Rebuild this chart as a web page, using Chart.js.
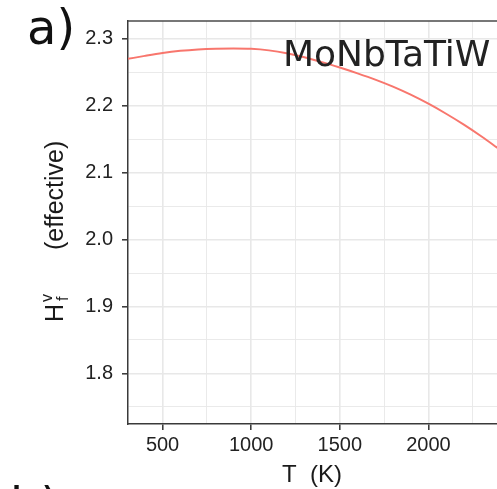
<!DOCTYPE html>
<html>
<head>
<meta charset="utf-8">
<script src="https://cdn.jsdelivr.net/npm/chart.js@4.4.1/dist/chart.umd.min.js"></script>
<style>
  html, body { margin: 0; padding: 0; background: #fff; }
</style>
</head>
<body>
<canvas id="myChart" width="497" height="489"></canvas>
<script>
// temperature (K) and effective vacancy formation enthalpy
const temps = [305, 400, 500, 600, 700, 800, 900, 1000, 1100, 1200, 1300, 1400,
               1500, 1600, 1700, 1800, 1900, 2000, 2100, 2200, 2300, 2400];
const hfv = [2.2700, 2.2745, 2.2788, 2.2820, 2.2841, 2.2852, 2.2855, 2.2850, 2.2827, 2.2785, 2.2725, 2.2652,
             2.2570, 2.2483, 2.2390, 2.2285, 2.2165, 2.2030, 2.1880, 2.1717, 2.1540, 2.1350];
// gridline positions (major ones get a label)
const xTicks = [500, 750, 1000, 1250, 1500, 1750, 2000, 2250];
const xLabeled = [500, 1000, 1500, 2000];
const yTicks = [1.75, 1.8, 1.85, 1.9, 1.95, 2.0, 2.05, 2.1, 2.15, 2.2, 2.25, 2.3];
const yLabeled = [1.8, 1.9, 2.0, 2.1, 2.2, 2.3];

const isMajor = (list, v) => list.some(m => Math.abs(m - v) < 1e-6);

Chart.defaults.font.family = "'Liberation Sans', Arial, sans-serif";

const textPlugin = {
  id: "panelText",
  beforeDraw(chart) {
    const c = chart.ctx;
    c.save();
    c.fillStyle = "#fff";
    c.fillRect(0, 0, chart.width, chart.height);
    c.restore();
  },
  afterDraw(chart) {
    const c = chart.ctx;
    const area = chart.chartArea;
    c.save();
    // top panel border
    c.strokeStyle = "#4a4a4a";
    c.lineWidth = 1.5;
    c.beginPath();
    c.moveTo(area.left, area.top);
    c.lineTo(area.right, area.top);
    c.stroke();

    c.fillStyle = "#111";
    c.textBaseline = "alphabetic";
    // panel letters
    c.font = "48px 'DejaVu Sans', sans-serif";
    c.textAlign = "left";
    c.fillText("a)", 27, 44);
    c.fillText("b)", 10, 522);

    // alloy name
    c.font = "36px 'DejaVu Sans', sans-serif";
    c.fillStyle = "#222";
    c.fillText("MoNbTaTiW", 283, 66);

    // x title
    c.fillStyle = "#1a1a1a";
    c.font = "24px 'Liberation Sans', Arial, sans-serif";
    c.textAlign = "center";
    c.fillText("T  (K)", 312, 482);

    // y title with sub/superscript
    c.translate(63, 322);
    c.rotate(-Math.PI / 2);
    c.textAlign = "left";
    c.font = "25px 'Liberation Sans', Arial, sans-serif";
    c.fillText("H", 0, 0);
    const wH = c.measureText("H").width;
    c.font = "16px 'Liberation Sans', Arial, sans-serif";
    c.fillText("v", wH + 2, -11);
    c.fillText("f", wH + 3, 5);
    c.font = "25px 'Liberation Sans', Arial, sans-serif";
    c.fillText("(effective)", 72, 0);
    c.restore();
  }
};

new Chart(document.getElementById("myChart"), {
  type: "line",
  data: {
    datasets: [{
      data: temps.map((t, i) => ({ x: t, y: hfv[i] })),
      borderColor: "#F8766D",
      borderWidth: 2,
      pointRadius: 0,
      cubicInterpolationMode: "monotone",
      fill: false
    }]
  },
  options: {
    responsive: false,
    animation: false,
    layout: { padding: { top: 16, right: 0, left: 0, bottom: 0 } },
    plugins: { legend: { display: false }, tooltip: { enabled: false } },
    scales: {
      x: {
        type: "linear",
        min: 305,
        max: 2387,
        afterBuildTicks: s => { s.ticks = xTicks.map(v => ({ value: v })); },
        afterFit: s => { s.height = 65; },
        ticks: {
          autoSkip: false,
          maxRotation: 0,
          padding: 3,
          color: "#222",
          font: { size: 20 },
          callback: v => isMajor(xLabeled, v) ? String(v) : ""
        },
        grid: {
          color: "#e8e8e8",
          lineWidth: ctx => (ctx.tick && isMajor(xLabeled, ctx.tick.value)) ? 1.6 : 0.9,
          tickColor: ctx => (ctx.tick && isMajor(xLabeled, ctx.tick.value)) ? "#333" : "rgba(0,0,0,0)",
          tickLength: 6,
          tickWidth: 1.5
        },
        border: { display: true, color: "#3a3a3a", width: 1.5 }
      },
      y: {
        min: 1.7244,
        max: 2.3266,
        afterBuildTicks: s => { s.ticks = yTicks.map(v => ({ value: v })); },
        afterFit: s => { s.width = 128; },
        ticks: {
          autoSkip: false,
          padding: 9,
          color: "#222",
          font: { size: 20 },
          callback: v => isMajor(yLabeled, v) ? v.toFixed(1) : ""
        },
        grid: {
          color: "#e8e8e8",
          lineWidth: ctx => (ctx.tick && isMajor(yLabeled, ctx.tick.value)) ? 1.6 : 0.9,
          tickColor: ctx => (ctx.tick && isMajor(yLabeled, ctx.tick.value)) ? "#333" : "rgba(0,0,0,0)",
          tickLength: 6,
          tickWidth: 1.5
        },
        border: { display: true, color: "#3a3a3a", width: 1.5 }
      }
    }
  },
  plugins: [textPlugin]
});
</script>
</body>
</html>
